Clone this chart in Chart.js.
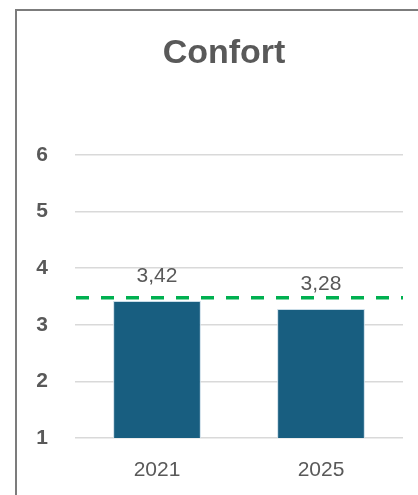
<!DOCTYPE html>
<html>
<head>
<meta charset="utf-8">
<script src="https://cdn.jsdelivr.net/npm/chart.js@4/dist/chart.umd.min.js"></script>
<style>
    body { margin: 0; background: #fff; }
    .wrap { position: relative; width: 418px; height: 495px; }
    .frame {
        position: absolute; left: 15px; top: 9px; width: 420px; height: 500px;
        border-top: 2px solid #7c7c7c; border-left: 2px solid #7c7c7c;
        pointer-events: none;
    }
</style>
</head>
<body>
<div class="wrap">
    <canvas id="myChart"></canvas>
    <div class="frame"></div>
</div>
<script>
let years = ["2021", "2025"];
let scores = [3.42, 3.28];
let benchmark = [3.48];
let yTicks = [1, 2, 3, 4, 5, 6];
let chartTitle = "Confort";

let textColor = "#595959";
let fontName = "'Liberation Sans', Arial, sans-serif";

function formatScore(v) {
    return v.toFixed(2).replace(".", ",");
}

// title, a bit left of the plot centre like in the original
let titleText = {
    id: "titleText",
    afterDraw(chart) {
        let ctx = chart.ctx;
        let area = chart.chartArea;
        ctx.save();
        ctx.fillStyle = textColor;
        ctx.font = "bold 34px " + fontName;
        ctx.textAlign = "center";
        ctx.textBaseline = "middle";
        ctx.fillText(chartTitle, (area.left + area.right) / 2 - 15, 54);
        ctx.restore();
    }
};

// dashed green reference line across the plot area
let benchmarkLine = {
    id: "benchmarkLine",
    afterDatasetsDraw(chart) {
        let ctx = chart.ctx;
        let area = chart.chartArea;
        let y = chart.scales.y.getPixelForValue(benchmark[0]);
        ctx.save();
        ctx.strokeStyle = "#00B050";
        ctx.lineWidth = 3.5;
        ctx.setLineDash([13, 12]);
        ctx.beginPath();
        ctx.moveTo(area.left + 1, y);
        ctx.lineTo(area.right, y);
        ctx.stroke();
        ctx.restore();
    }
};

// value labels above the bars
let valueLabels = {
    id: "valueLabels",
    afterDatasetsDraw(chart) {
        let ctx = chart.ctx;
        let meta = chart.getDatasetMeta(0);
        ctx.save();
        ctx.fillStyle = textColor;
        ctx.font = "21px " + fontName;
        ctx.textAlign = "center";
        ctx.textBaseline = "middle";
        meta.data.forEach((bar, i) => {
            ctx.fillText(formatScore(scores[i]), bar.x, bar.y - 25);
        });
        ctx.restore();
    }
};

let ctx = document.getElementById("myChart").getContext("2d");
let chartOne = new Chart(ctx, {
    type: "bar",
    data: {
        labels: years,
        datasets: [
            {
                label: chartTitle,
                data: scores,
                backgroundColor: "#185E80",
                borderColor: "#c9dce7",
                borderWidth: 1,
                categoryPercentage: 1,
                barPercentage: 0.535
            }
        ]
    },
    options: {
        responsive: true,
        maintainAspectRatio: false,
        animation: false,
        layout: {
            padding: { left: 15, right: 15, top: 155, bottom: 0 }
        },
        plugins: {
            legend: { display: false },
            tooltip: { enabled: false },
            title: { display: false }
        },
        scales: {
            x: {
                grid: { display: false, drawTicks: false },
                border: { display: false },
                ticks: {
                    color: textColor,
                    font: { family: fontName, size: 21 },
                    padding: 20
                },
                afterFit(scale) {
                    scale.height = 57;
                }
            },
            y: {
                min: yTicks[0],
                max: yTicks[yTicks.length - 1],
                afterBuildTicks(scale) {
                    scale.ticks = yTicks.map(v => ({ value: v }));
                },
                grid: { color: "#d9d9d9", lineWidth: 1.5, drawTicks: false },
                border: { display: false },
                ticks: {
                    color: textColor,
                    font: { family: fontName, size: 21, weight: "bold" },
                    padding: 27
                },
                afterFit(scale) {
                    scale.width = 60;
                }
            }
        }
    },
    plugins: [benchmarkLine, valueLabels, titleText]
});
</script>
</body>
</html>
